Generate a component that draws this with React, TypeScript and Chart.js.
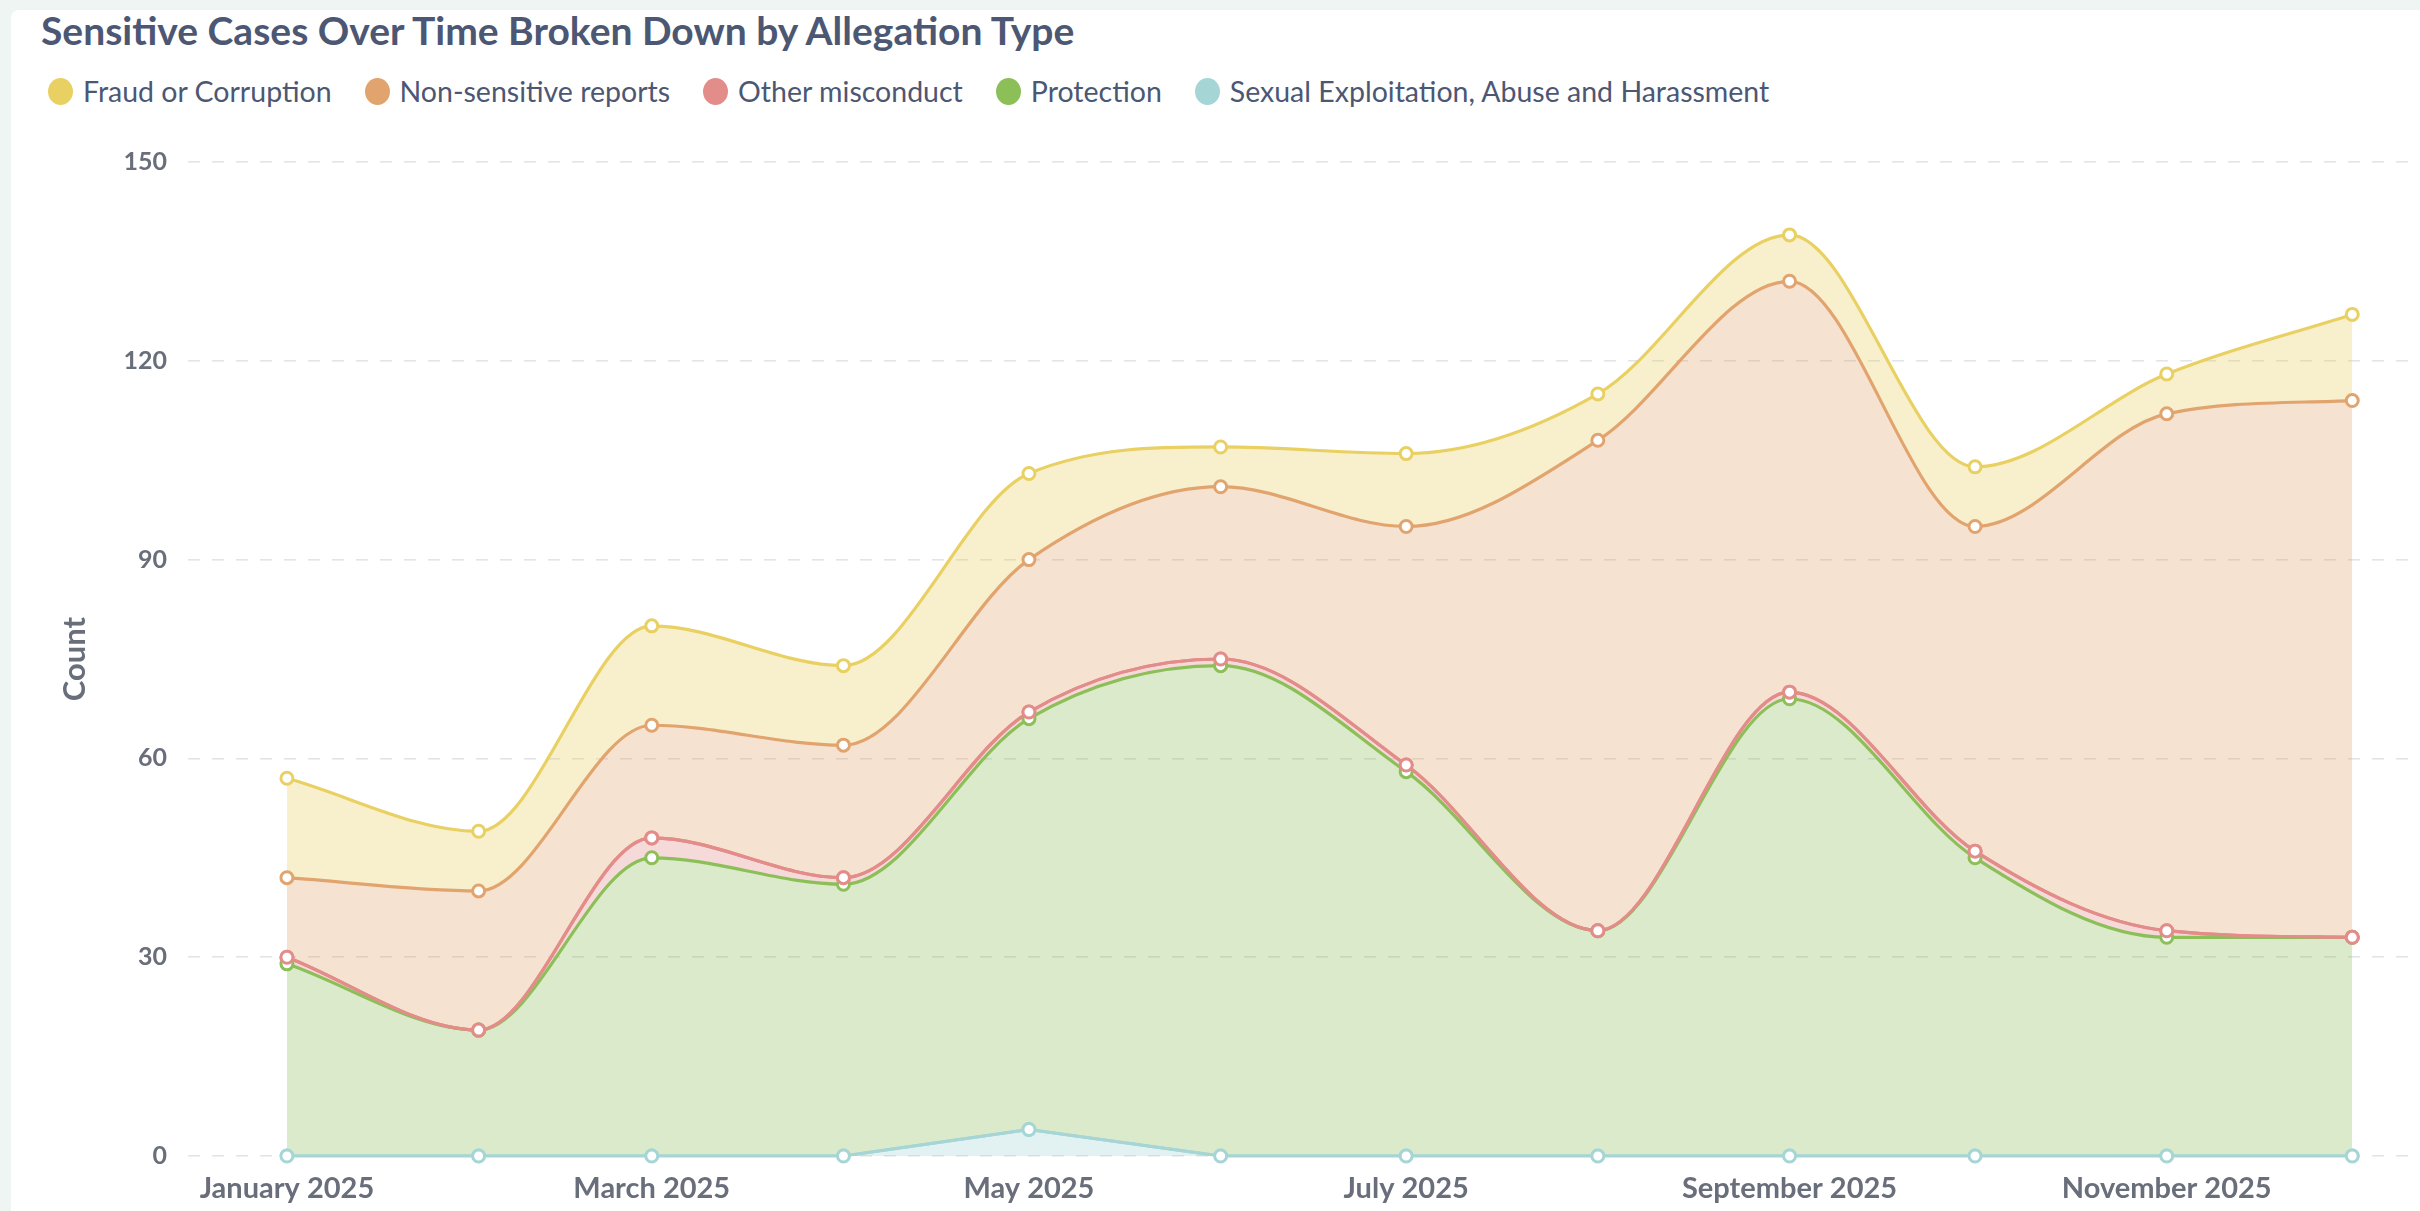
import React, { useEffect, useRef } from 'react';
import { Chart, registerables } from 'chart.js';

Chart.register(...registerables);

// ---------- data ----------
const TITLE = 'Sensitive Cases Over Time Broken Down by Allegation Type';
const Y_AXIS_TITLE = 'Count';

const months = [
  '2025-01-01', '2025-02-01', '2025-03-01', '2025-04-01', '2025-05-01', '2025-06-01',
  '2025-07-01', '2025-08-01', '2025-09-01', '2025-10-01', '2025-11-01', '2025-12-01',
];

const seriesNames = [
  'Fraud or Corruption',
  'Non-sensitive reports',
  'Other misconduct',
  'Protection',
  'Sexual Exploitation, Abuse and Harassment',
];

const fraudOrCorruption = [15, 9, 15, 12, 13, 6, 11, 7, 7, 9, 6, 13];
const nonSensitiveReports = [12, 21, 17, 20, 23, 26, 36, 74, 62, 49, 78, 81];
const otherMisconduct = [1, 0, 3, 1, 1, 1, 1, 0, 1, 1, 1, 0];
const protection = [29, 19, 45, 41, 62, 74, 58, 34, 69, 45, 33, 33];
const sexualExploitation = [0, 0, 0, 0, 4, 0, 0, 0, 0, 0, 0, 0];

const xTickDates = ['2025-01-01', '2025-03-01', '2025-05-01', '2025-07-01', '2025-09-01', '2025-11-01'];
const xTickLabels = ['January 2025', 'March 2025', 'May 2025', 'July 2025', 'September 2025', 'November 2025'];

const yMin = 0;
const yMax = 150;
const yStep = 30;

// ---------- styles ----------
const X_PAD_START_DAYS = 16;
const X_PAD_END_DAYS = 9.5;

const COLORS = {
  fraud: '#E9D062',
  nonSensitive: '#E2A46E',
  other: '#E38D8A',
  protection: '#8DBF59',
  sexual: '#A6D5D6',
};
const FILL_ALPHA = '52';
const TEXT_DARK = '#4C5773';
const TEXT_MEDIUM = '#696E7B';

const legendColors = [COLORS.fraud, COLORS.nonSensitive, COLORS.other, COLORS.protection, COLORS.sexual];

const DAY = 86400000;
const origin = Date.parse(months[0] + 'T00:00:00Z');
const dayOf = (d: string) => Math.round((Date.parse(d + 'T00:00:00Z') - origin) / DAY);

const toPoints = (vals: number[]) => vals.map((v, i) => ({ x: dayOf(months[i]), y: v }));

const redOnTop = {
  id: 'redOnTop',
  afterDatasetsDraw(chart: any) {
    const meta = chart.getDatasetMeta(2);
    if (meta && meta.controller) meta.controller.draw();
    const teal = chart.getDatasetMeta(0);
    if (teal && teal.controller) teal.controller.draw();
  },
};

export default function App() {
  const canvasRef = useRef<HTMLCanvasElement | null>(null);

  useEffect(() => {
    document.body.style.margin = '0';
    document.body.style.background = '#EEF5F3';
    const canvas = canvasRef.current;
    if (!canvas) return;

    const ds = (label: string, data: number[], color: string, fill: any, smooth: boolean) => ({
      label,
      data: toPoints(data),
      borderColor: color,
      backgroundColor: color + FILL_ALPHA,
      fill,
      borderWidth: 3.2,
      pointRadius: 6,
      pointBorderWidth: 3,
      pointBackgroundColor: '#FFFFFF',
      pointBorderColor: color,
      tension: smooth ? 0.4 : 0,
      cubicInterpolationMode: smooth ? 'monotone' : 'default',
    });

    const firstDay = dayOf(months[0]);
    const lastDay = dayOf(months[months.length - 1]);

    const chart = new Chart(canvas, {
      type: 'line',
      data: {
        datasets: [
          ds(seriesNames[4], sexualExploitation, COLORS.sexual, 'origin', false),
          ds(seriesNames[3], protection, COLORS.protection, '-1', true),
          ds(seriesNames[2], otherMisconduct, COLORS.other, '-1', true),
          ds(seriesNames[1], nonSensitiveReports, COLORS.nonSensitive, '-1', true),
          ds(seriesNames[0], fraudOrCorruption, COLORS.fraud, '-1', true),
        ] as any,
      },
      options: {
        responsive: false,
        animation: false,
        layout: { padding: { top: 42, bottom: 0, left: 0, right: 0 } },
        plugins: {
          legend: { display: false },
          title: { display: false },
          tooltip: { enabled: false },
        },
        scales: {
          x: {
            type: 'linear',
            min: firstDay - X_PAD_START_DAYS,
            max: lastDay + X_PAD_END_DAYS,
            grid: { display: false, drawTicks: false },
            border: { display: false },
            afterFit: (scale: any) => {
              scale.height = 55;
            },
            afterBuildTicks: (scale: any) => {
              scale.ticks = xTickDates.map((d) => ({ value: dayOf(d) }));
            },
            ticks: {
              autoSkip: false,
              maxRotation: 0,
              padding: 15,
              color: TEXT_MEDIUM,
              font: { family: 'Lato', size: 29, weight: 'bold' },
              callback: (_v: any, i: number) => xTickLabels[i],
            },
          },
          y: {
            stacked: true,
            min: yMin,
            max: yMax,
            afterFit: (scale: any) => {
              scale.width = 177;
            },
            ticks: {
              stepSize: yStep,
              padding: 21,
              color: TEXT_MEDIUM,
              font: { family: 'Lato', size: 25, weight: 'bold' },
            },
            grid: { color: '#E2E4E8', lineWidth: 1.6, drawTicks: false },
            border: { display: false, dash: [12, 12] },
            title: {
              display: true,
              text: Y_AXIS_TITLE,
              color: TEXT_MEDIUM,
              font: { family: 'Lato', size: 31, weight: 'bold' },
              padding: { top: 45, bottom: 0 },
            },
          },
        },
      } as any,
      plugins: [redOnTop],
    });
    return () => chart.destroy();
  }, []);

  return (
    <div style={{ position: 'fixed', left: 0, top: 0, width: 2420, height: 1211, overflow: 'hidden', background: '#EEF5F3' }}>
      <div
        style={{
          position: 'absolute',
          left: 11,
          top: 10,
          width: 2409,
          height: 1201,
          background: '#FFFFFF',
          borderTopLeftRadius: 8,
        }}
      />
      <div
        style={{
          position: 'absolute',
          left: 41,
          top: 7,
          fontFamily: 'Lato',
          fontWeight: 700,
          fontSize: 39,
          lineHeight: 1.2,
          color: TEXT_DARK,
          whiteSpace: 'nowrap',
        }}
      >
        {TITLE}
      </div>
      <div
        style={{
          position: 'absolute',
          left: 48,
          top: 74,
          height: 34,
          display: 'flex',
          alignItems: 'center',
          whiteSpace: 'nowrap',
        }}
      >
        {seriesNames.map((name, i) => (
          <div key={name} style={{ display: 'flex', alignItems: 'center', marginRight: 33 }}>
            <span
              style={{
                display: 'inline-block',
                width: 25,
                height: 27,
                borderRadius: '50%',
                background: legendColors[i],
              }}
            />
            <span
              style={{
                marginLeft: 10,
                fontFamily: 'Lato',
                fontSize: 28.5,
                lineHeight: '34px',
                color: TEXT_DARK,
              }}
            >
              {name}
            </span>
          </div>
        ))}
      </div>
      <canvas
        ref={canvasRef}
        width={2409}
        height={1091}
        style={{ position: 'absolute', left: 11, top: 120, width: 2409, height: 1091 }}
      />
    </div>
  );
}
